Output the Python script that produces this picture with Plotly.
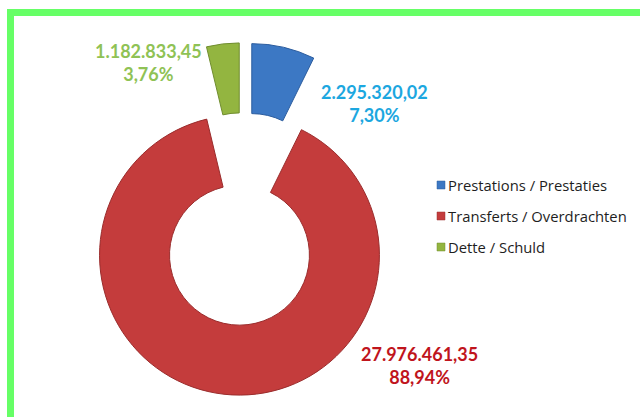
import plotly.graph_objects as go

labels = ["Prestations / Prestaties", "Transferts / Overdrachten", "Dette / Schuld"]
values = [2295320.02, 27976461.35, 1182833.45]
slice_colors = ["#3C78C4", "#C43C3C", "#93B540"]
edge_colors = ["#2B5C9E", "#9A2C2C", "#708D2E"]
label_colors = ["#1CA7E0", "#C0141C", "#8FC255"]
# label anchor positions (paper coords) for each slice's value label
label_pos = [(374 / 640, 1 - 103 / 417), (419 / 640, 1 - 365 / 417), (148 / 640, 1 - 63 / 417)]
legend_y = [185, 216, 247]

total = sum(values)


def eu(v, d=2):
    s = f"{v:,.{d}f}"
    return s.replace(",", "X").replace(".", ",").replace("X", ".")


W, H = 640, 417
fig = go.Figure()
fig.add_trace(go.Pie(
    labels=labels,
    values=values,
    hole=0.5,
    pull=[0.26, 0.26, 0.26],
    sort=False,
    direction="clockwise",
    rotation=0,
    marker=dict(colors=slice_colors, line=dict(color=edge_colors, width=1)),
    textinfo="none",
    hoverinfo="label+value+percent",
    showlegend=False,
    domain=dict(x=[0.105, 0.656], y=[0.0518, 0.8978]),
))

annotations = []
for v, c, (px, py) in zip(values, label_colors, label_pos):
    annotations.append(dict(
        x=px, y=py, xref="paper", yref="paper", showarrow=False,
        text=f"<b>{eu(v)}<br>{eu(v / total * 100)}%</b>",
        font=dict(family="Lato, Open Sans, sans-serif", size=18, color=c),
        align="center", xanchor="center", yanchor="middle",
    ))

shapes = [dict(type="rect", xref="paper", yref="paper",
               x0=10.5 / W, x1=1.05, y0=-0.05, y1=1 - 12.5 / H,
               line=dict(color="#66FF66", width=7), fillcolor="rgba(0,0,0,0)")]

for lab, c, e, ly in zip(labels, slice_colors, edge_colors, legend_y):
    shapes.append(dict(type="rect", xref="paper", yref="paper",
                       x0=437 / W, x1=445 / W, y0=1 - (ly + 4) / H, y1=1 - (ly - 4) / H,
                       fillcolor=c, line=dict(color=e, width=0.5)))
    annotations.append(dict(
        x=446 / W, y=1 - ly / H, xref="paper", yref="paper", showarrow=False,
        text=lab, xanchor="left", yanchor="middle",
        font=dict(family="Open Sans, sans-serif", size=14.8, color="#1e1e1e"),
    ))

fig.update_layout(
    width=W, height=H,
    margin=dict(l=0, r=0, t=0, b=0),
    paper_bgcolor="white", plot_bgcolor="white",
    annotations=annotations, shapes=shapes,
)
fig.write_html("out.html", config={"displayModeBar": False},
               post_script="document.body.style.margin='0';document.body.style.padding='0';")
